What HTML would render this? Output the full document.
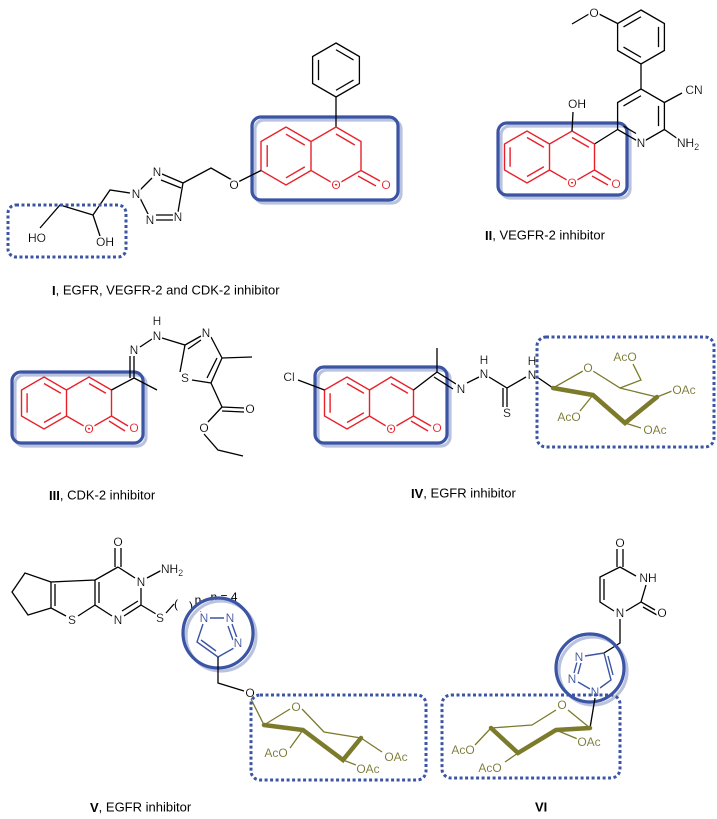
<!DOCTYPE html>
<html><head><meta charset="utf-8"><style>
body{margin:0;background:#fff}
svg{display:block}
.k{stroke:#000;stroke-width:1.3;fill:none}
.r{stroke:#e8202a;stroke-width:1.4;fill:none}
.g{stroke:#7c7a2b;stroke-width:1.3;fill:none}
.gb{stroke:#7c7a2b;stroke-width:4.5;fill:none;stroke-linecap:round}
.bl{stroke:#3b54a4;stroke-width:1.4;fill:none}
text{font-family:"Liberation Sans",sans-serif;font-size:12px;text-anchor:middle;dominant-baseline:central;stroke:none;filter:url(#h)}
.tr{fill:#e8202a}.tg{fill:#7c7a2b}.tb{fill:#3b54a4}
.lab{font-size:13px;text-anchor:start;filter:none}
.nf{filter:none}
.box{fill:none;stroke:#3b54a4;stroke-width:3.2}
.sh{fill:none;stroke:#b9c3e0;stroke-width:3.2}
.dot{fill:none;stroke:#3b54a4;stroke-width:3;stroke-dasharray:3 2.5}
</style></head><body>
<svg width="717" height="819" viewBox="0 0 717 819" xmlns="http://www.w3.org/2000/svg">
<defs>
<filter id="h" x="-30%" y="-30%" width="160%" height="160%">
<feMorphology in="SourceAlpha" operator="dilate" radius="1.6" result="d"/>
<feFlood flood-color="#fff"/>
<feComposite in2="d" operator="in" result="w"/>
<feMerge><feMergeNode in="w"/><feMergeNode in="SourceGraphic"/></feMerge>
</filter>
</defs>
<!-- ===== I ===== -->
<rect class="sh" x="255" y="120" width="146" height="83" rx="9"/>
<rect class="box" x="252" y="117" width="146" height="83" rx="9"/>
<path class="k" d="M336,43 L359.4,56.5 L359.4,83.5 L336,97 L312.6,83.5 L312.6,56.5 Z M336,49.75 L353.5,59.9 M353.5,80.1 L336,90.25 M318.5,80.1 L318.5,59.9 M336,97 L336,127"/>
<path class="r" d="M336,127 L361,141.5 L361,170.5 L336,185 L311,170.5 L311,141.5 Z M336,134 L354.8,145 M311,141.5 L286,127 L261,141.5 L261,170.5 L286,185 L311,170.5 M267.2,145.1 L267.2,166.9 M286,134.2 L304.8,145.1 M286,177.8 L304.8,166.9 M361,170.5 L380,181 M358,176 L376,186"/>
<text class="tr" x="336" y="185">O</text><text class="tr" x="386" y="185">O</text>
<path class="k" d="M261,170.5 L236,183 M232,180 L211,168 L183,183 M183,183 L178,212 M183,183 L162,174 M181,188 L161,180 M152,178 L140,190 M140,198 L149,216 M156,220 L173,220 M156,215 L173,215 M130,193 L110,190 L93,215 L100,236 M93,215 L60,205 L40,228"/>
<text x="234" y="185">O</text>
<text x="157" y="172">N</text><text x="136" y="194">N</text><text x="150" y="220">N</text><text x="178" y="217">N</text>
<text x="37" y="238">HO</text><text x="105" y="242">OH</text>
<rect class="dot" x="8" y="205" width="118" height="52" rx="8"/>
<text class="lab" x="52" y="290"><tspan font-weight="bold">I</tspan>, EGFR, VEGFR-2 and CDK-2 inhibitor</text>
<!-- ===== II ===== -->
<rect class="sh" x="501" y="126" width="129" height="72" rx="9"/>
<rect class="box" x="498" y="123" width="129" height="72" rx="9"/>
<path class="k" d="M641,10 L664.4,23.5 L664.4,50.5 L641,64 L617.6,50.5 L617.6,23.5 Z M641,16.75 L623.5,26.9 M658.5,26.9 L658.5,47.1 M641,57.25 L623.5,47.1 M617.6,23.5 L599,14 M589,14 L572,24 M641,64 L641,89 L664.4,102.5 L664.4,129.5 L641,143 L617.6,129.5 L617.6,102.5 L641,89 M623.5,105.9 L641,95.75 M658.5,105.9 L658.5,126.1 M623.5,126.1 L636,133.5 M664.4,102.5 L682,93 M664.4,129.5 L678,139 M594.5,144 L617.6,129.5"/>
<text x="594" y="13">O</text><text x="694" y="90">CN</text><text x="641" y="143">N</text><text x="688" y="143">NH<tspan font-size="9" dy="4">2</tspan></text>
<path class="r" d="M572,131 L594.5,144 L594.5,170 L572,183 L549.5,170 L549.5,144 Z M572,137.5 L588.9,147.25 M549.5,144 L527,131 L504.5,144 L504.5,170 L527,183 L549.5,170 M510.1,147.25 L510.1,166.75 M527,137.5 L543.9,147.25 M527,176.5 L543.9,166.75 M594.5,170 L611,180 M592,176 L608,185"/>
<path class="k" d="M572,131 L573,112"/>
<text x="577" y="104">OH</text>
<text class="tr" x="572" y="183">O</text><text class="tr" x="616" y="184">O</text>
<text class="lab" x="485" y="235"><tspan font-weight="bold">II</tspan>, VEGFR-2 inhibitor</text>
<!-- ===== III ===== -->
<rect class="sh" x="15" y="375" width="131" height="71" rx="9"/>
<rect class="box" x="12" y="372" width="131" height="71" rx="9"/>
<path class="r" d="M44,377 L66.5,390 L66.5,416 L44,429 L21.5,416 L21.5,390 Z M27.1,393.25 L27.1,412.75 M44,383.5 L60.9,393.25 M44,422.5 L60.9,412.75 M66.5,390 L89,377 L111.5,390 L111.5,416 L89,429 L66.5,416 M89,383.5 L105.9,393.25 M111.5,416 L128,426 M109,421 L125,431"/>
<text class="tr" x="89" y="429">O</text><text class="tr" x="134" y="428">O</text>
<path class="k" d="M111.5,390 L134,378 L157,390 M134,378 L134,356 M130,378 L130,356 M140,347 L152,339 M162,338 L185,345 L201,336 M188,349 L201,340 M211,337 L222,358 L252,357 M222,358 L211,383 M217,358 L207,378 M211,383 L192,380 M180,372 L185,345 M211,383 L222,407 L244,408 M222,411 L244,412 M222,407 L208,422 M204,434 L218,450 L243,456"/>
<text x="134" y="350">N</text><text x="157" y="336">N</text><text x="157" y="321">H</text><text x="206" y="333">N</text><text x="185" y="378">S</text><text x="250" y="409">O</text><text x="204" y="428">O</text>
<text class="lab" x="49" y="495"><tspan font-weight="bold">III</tspan>, CDK-2 inhibitor</text>
<!-- ===== IV ===== -->
<rect class="sh" x="318" y="370" width="132" height="76" rx="9"/>
<rect class="box" x="315" y="367" width="132" height="76" rx="9"/>
<path class="r" d="M347,377 L369.5,390 L369.5,416 L347,429 L324.5,416 L324.5,390 Z M330.1,393.25 L330.1,412.75 M347,383.5 L363.9,393.25 M347,422.5 L363.9,412.75 M369.5,390 L391,377 L413.5,390 L413.5,416 L391,429 L369.5,416 M391,383.5 L407.9,393.25 M413.5,416 L431,426 M411,421 L428,431"/>
<text class="tr" x="391" y="429">O</text><text class="tr" x="437" y="428">O</text>
<path class="k" d="M324.5,390 L298,380 M413.5,390 L437,372 L437,348 M437,372 L456,384 M434,377 L453,389 M467,383 L479,377 M489,377 L507,388 L526,377 M507,388 L507,407 M503,388 L503,407 M537,377 L553,388"/>
<text x="289" y="377">Cl</text><text x="461" y="389">N</text><text x="484" y="374">N</text><text x="484" y="360">H</text><text x="507" y="413">S</text><text x="532" y="375">N</text><text x="532" y="361">H</text>
<path class="g" d="M553,388 L583,371 M593,371 L620,388 L657,397 M620,388 L641,380 L633,364 M657,397 L672,391 M625,423 L641,428 M593,395 L580,411"/>
<path class="gb" d="M553,388 L593,395 L625,423 L657,397"/>
<text class="tg" x="588" y="368">O</text><text class="tg" x="625" y="357">AcO</text><text class="tg" x="684" y="390">OAc</text><text class="tg" x="655" y="430">OAc</text><text class="tg" x="569" y="417">AcO</text>
<rect class="dot" x="537" y="337" width="177" height="110" rx="9"/>
<text class="lab" x="411" y="493"><tspan font-weight="bold">IV</tspan>, EGFR inhibitor</text>
<!-- ===== V ===== -->
<path class="k" d="M115,548 L115,567 M121,548 L121,567 M118,567 L135,578 M147,578 L162,570 M141,588 L141,605 L124,616 M138,601 L122,611 M112,616 L95,605 L95,580 L118,567 M99,603 L99,582 M95,605 L78,616 M66,616 L51,608 L51,582 L95,580 M55,606 L55,584 M51,582 L25,573 L12,592 L28,615 L51,608 M141,605 L156,614 M166,613 L174,604 M200,612 L204,614"/>
<text x="118" y="542">O</text><text x="141" y="582">N</text><text x="172" y="569">NH<tspan font-size="9" dy="4">2</tspan></text><text x="118" y="620">N</text><text x="72" y="620">S</text><text x="160" y="618">S</text>
<text class="nf" x="176" y="604">(</text><text class="nf" x="191" y="606">)</text><text class="nf" x="198" y="600" font-size="11">n</text>
<text class="nf" x="224" y="597">n = 4</text>
<circle cx="221" cy="636" r="35" fill="none" stroke="#b9c3e0" stroke-width="3.2"/>
<circle cx="218" cy="633" r="35" fill="none" stroke="#3b54a4" stroke-width="3.2"/>
<path class="bl" d="M210,618 L224,618 M232,624 L237,638 M228,626 L233,640 M234,648 L218,657 L197,642 L203,624 M216,651 L201,640"/>
<text class="tb" x="204" y="618">N</text><text class="tb" x="230" y="618">N</text><text class="tb" x="238" y="643">N</text>
<path class="k" d="M218,657 L218,683 L244,691"/>
<text x="250" y="693">O</text>
<path class="g" d="M251,699 L264,725 L290,709 M302,709 L324,732 L361,738 M303,730 L290,748 M343,760 L356,765 M361,738 L382,752"/>
<path class="gb" d="M264,725 L303,730 L343,760 L361,738"/>
<text class="tg" x="296" y="707">O</text><text class="tg" x="276" y="753">AcO</text><text class="tg" x="368" y="769">OAc</text><text class="tg" x="396" y="757">OAc</text>
<rect class="dot" x="251" y="695" width="175" height="85" rx="9"/>
<text class="lab" x="90" y="807"><tspan font-weight="bold">V</tspan>, EGFR inhibitor</text>
<!-- ===== VI ===== -->
<path class="k" d="M617,549 L617,567 M623,549 L623,567 M620,567 L636,576 M646,585 L641,602 L655,610 M643,607 L657,615 M641,602 L626,611 M614,611 L600,602 L600,577 L620,567 M604,600 L604,579 M620,619 L620,643 L604,653"/>
<text x="620" y="543">O</text><text x="648" y="578">NH</text><text x="662" y="613">O</text><text x="620" y="613">N</text>
<circle cx="593" cy="671" r="34" fill="none" stroke="#b9c3e0" stroke-width="3.2"/>
<circle cx="590" cy="668" r="34" fill="none" stroke="#3b54a4" stroke-width="3.2"/>
<path class="bl" d="M604,653 L611,680 L600,688 M608,656 L613,675 M590,689 L578,682 M574,673 L577,662 M578,674 L581,663 M585,656 L604,653"/>
<text class="tb" x="579" y="657">N</text><text class="tb" x="572" y="679">N</text><text class="tb" x="595" y="692">N</text>
<path class="k" d="M595,698 L590,728"/>
<path class="g" d="M590,728 L568,710 M556,710 L532,725 L491,728 M556,730 L580,740 M491,728 L475,745 M518,753 L505,762"/>
<path class="gb" d="M590,728 L556,730 L518,753 L491,728"/>
<text class="tg" x="562" y="705">O</text><text class="tg" x="589" y="742">OAc</text><text class="tg" x="463" y="750">AcO</text><text class="tg" x="490" y="768">AcO</text>
<rect class="dot" x="442" y="695" width="178" height="83" rx="9"/>
<text class="lab" x="535" y="807" font-weight="bold">VI</text>
</svg>
</body></html>
